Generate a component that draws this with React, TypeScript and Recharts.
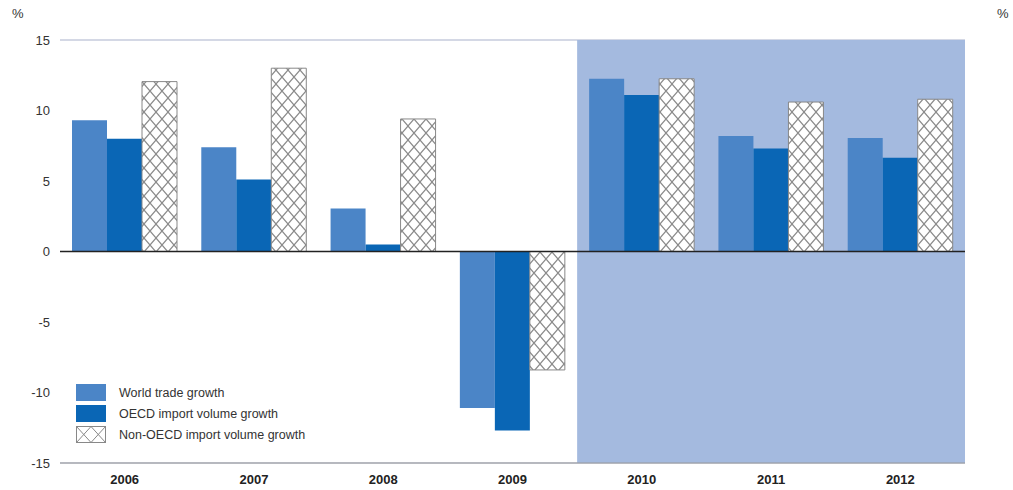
import React from "react";
import {
  BarChart,
  Bar,
  XAxis,
  YAxis,
  CartesianGrid,
  ReferenceArea,
  ReferenceLine,
} from "recharts";

const years = ["2006", "2007", "2008", "2009", "2010", "2011", "2012"];
const worldTrade = [9.3, 7.4, 3.05, -11.1, 12.25, 8.2, 8.05];
const oecdImports = [8.0, 5.1, 0.5, -12.7, 11.1, 7.3, 6.65];
const nonOecdImports = [12.05, 13.0, 9.4, -8.4, 12.25, 10.6, 10.8];
const yTicks = [-15, -10, -5, 0, 5, 10, 15];

const data = years.map((year, i) => ({
  year,
  world: worldTrade[i],
  oecd: oecdImports[i],
  nonOecd: nonOecdImports[i],
}));

const WORLD = "#4b85c7";
const OECD = "#0a66b5";
const SHADE = "#a4badf";
const FONT = "'Liberation Sans Narrow', 'Arial Narrow', 'Liberation Sans', Arial, sans-serif";

const legendItems = [
  { label: "World trade growth", fill: WORLD },
  { label: "OECD import volume growth", fill: OECD },
  { label: "Non-OECD import volume growth", fill: "hatch" },
];

function ChartLegend() {
  return (
    <div style={{ fontFamily: FONT, fontSize: 12.5, color: "#333" }}>
      {legendItems.map((item) => (
        <div key={item.label} style={{ display: "flex", alignItems: "center", height: 21 }}>
          <svg width={30} height={17} style={{ marginRight: 13 }}>
            {item.fill === "hatch" ? (
              <g>
                <rect x={0.5} y={0.5} width={29} height={16} fill="#fff" stroke="#888" />
                <path d="M0.5 0.5 L15 16.5 L29.5 0.5 M0.5 16.5 L15 0.5 L29.5 16.5" stroke="#888" fill="none" />
              </g>
            ) : (
              <rect width={30} height={17} fill={item.fill} />
            )}
          </svg>
          <span>{item.label}</span>
        </div>
      ))}
    </div>
  );
}

export default function App() {
  const tickStyle = { fill: "#333", fontSize: 13, fontFamily: FONT };
  return (
    <div style={{ position: "absolute", left: 0, top: 0, width: 1013, height: 490, background: "#fff" }}>
      <div style={{ position: "absolute", left: 12, top: 6, fontFamily: FONT, fontSize: 13, color: "#333" }}>%</div>
      <div style={{ position: "absolute", left: 997, top: 6, fontFamily: FONT, fontSize: 13, color: "#333" }}>%</div>
      <BarChart
        width={1013}
        height={490}
        data={data}
        margin={{ top: 40, right: 0, bottom: 0, left: 0 }}
        barCategoryGap={12}
        barGap={0}
      >
        <defs>
          <pattern id="hatch" width={12} height={14} patternUnits="userSpaceOnUse">
            <rect width={12} height={14} fill="#fff" />
            <path d="M0 0 L12 14 M12 0 L0 14" stroke="#8a8a8a" strokeWidth={1.2} />
          </pattern>
        </defs>
        <CartesianGrid vertical={false} stroke="#aab2cc" strokeWidth={1.2} />
        <ReferenceArea yAxisId="left" x1="2010" x2="2012" y1={-15} y2={15} fill={SHADE} fillOpacity={1} stroke="none" />
        <XAxis
          dataKey="year"
          height={27}
          axisLine={{ stroke: "#999" }}
          tickLine={false}
          tick={{ ...tickStyle, fontWeight: "bold", fill: "#222" }}
          tickMargin={6}
        />
        <YAxis
          yAxisId="left"
          width={60}
          domain={[-15, 15]}
          ticks={yTicks}
          axisLine={false}
          tickLine={false}
          tickSize={0}
          tickMargin={10}
          tick={tickStyle}
        />
        <YAxis
          yAxisId="right"
          orientation="right"
          width={48}
          domain={[-15, 15]}
          ticks={yTicks}
          axisLine={false}
          tickLine={false}
          tickSize={0}
          tickMargin={10}
          tick={tickStyle}
        />
        <Bar yAxisId="left" dataKey="world" name="World trade growth" fill={WORLD} isAnimationActive={false} />
        <Bar yAxisId="left" dataKey="oecd" name="OECD import volume growth" fill={OECD} isAnimationActive={false} />
        <Bar
          yAxisId="left"
          dataKey="nonOecd"
          name="Non-OECD import volume growth"
          fill="url(#hatch)"
          stroke="#888"
          strokeWidth={1}
          isAnimationActive={false}
        />
        <ReferenceLine yAxisId="left" y={0} stroke="#222" strokeWidth={1.5} />
      </BarChart>
      <div style={{ position: "absolute", left: 76, top: 382 }}>
        <ChartLegend />
      </div>
    </div>
  );
}
